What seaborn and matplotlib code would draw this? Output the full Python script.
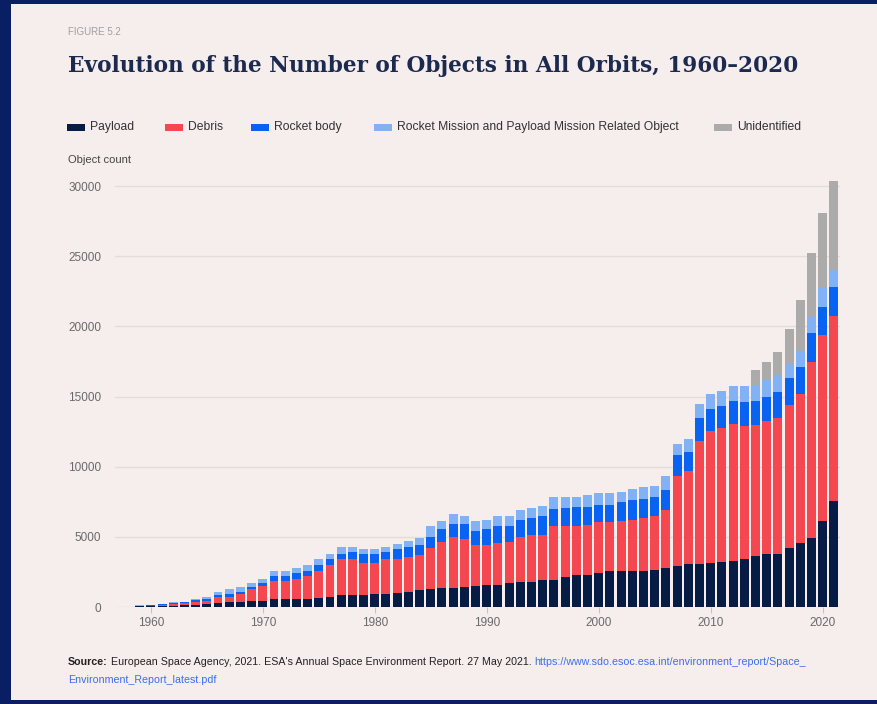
import numpy as np
import pandas as pd
import matplotlib
matplotlib.use("Agg")
import matplotlib.pyplot as plt
from matplotlib.patches import Rectangle
import seaborn as sns

years = list(range(1957, 2022))

payload = [2, 5, 40, 60, 60, 100, 120, 150, 200, 300, 350, 350, 400, 400, 550, 550, 550, 600, 650, 700,
           880, 880, 880, 900, 950, 1000, 1050, 1200, 1250, 1350, 1350, 1400, 1500, 1550, 1600, 1700,
           1750, 1800, 1950, 1950, 2150, 2300, 2300, 2450, 2550, 2550, 2550, 2600, 2650, 2750, 2900,
           3050, 3050, 3150, 3200, 3300, 3450, 3600, 3750, 3800, 4200, 4550, 4950, 6150, 7550]
debris = [0, 0, 20, 30, 100, 120, 170, 230, 250, 400, 350, 580, 860, 1100, 1310, 1310, 1450, 1600,
          1950, 2300, 2520, 2520, 2270, 2250, 2450, 2450, 2500, 2500, 2950, 3250, 3650, 3450, 2900,
          2850, 2950, 2900, 3250, 3350, 3200, 3800, 3600, 3500, 3550, 3600, 3500, 3550, 3650, 3750,
          3800, 4150, 6400, 6650, 8750, 9400, 9550, 9750, 9450, 9400, 9500, 9700, 10200, 10600, 12500,
          13200, 13200]
rocket_body = [1, 5, 30, 40, 30, 80, 50, 120, 150, 180, 230, 170, 170, 200, 340, 340, 400, 400, 400,
               400, 400, 550, 600, 600, 550, 650, 700, 750, 800, 950, 950, 1100, 1050, 1150, 1200,
               1150, 1200, 1200, 1300, 1250, 1300, 1300, 1300, 1250, 1250, 1350, 1400, 1350, 1400,
               1450, 1500, 1350, 1650, 1550, 1600, 1600, 1700, 1650, 1750, 1800, 1950, 1950, 2050,
               2000, 2050]
mission_related = [0, 3, 20, 20, 10, 30, 20, 50, 100, 220, 370, 350, 270, 300, 400, 400, 400, 400,
                   400, 350, 500, 350, 350, 350, 350, 400, 450, 500, 750, 550, 700, 550, 650, 650,
                   700, 700, 700, 700, 750, 850, 800, 750, 850, 850, 800, 750, 800, 850, 800, 950,
                   800, 950, 1000, 1100, 1050, 1100, 1150, 1150, 1150, 1200, 950, 1150, 1200, 1350, 1250]
unidentified = [0] * 57 + [1100, 1300, 1700, 2500, 3650, 4550, 5400, 6300]

series_names = ["Payload", "Debris", "Rocket body",
                "Rocket Mission and Payload Mission Related Object", "Unidentified"]
series_colors = ["#061c44", "#f44750", "#0862f2", "#82b2f6", "#ababab"]
y_ticks = [0, 5000, 10000, 15000, 20000, 25000, 30000]
x_tick_years = [1960, 1970, 1980, 1990, 2000, 2010, 2020]

PANEL = "#f6eded"
W, H = 877, 704

df = pd.DataFrame({"year": [str(y) for y in years], "Payload": payload, "Debris": debris,
                   "Rocket body": rocket_body,
                   "Rocket Mission and Payload Mission Related Object": mission_related,
                   "Unidentified": unidentified})
cum = df[series_names].cumsum(axis=1)

sns.set_theme(style="white")
plt.rcParams["font.family"] = ["Liberation Sans", "DejaVu Sans"]

fig = plt.figure(figsize=(W / 100, H / 100), dpi=100)
fig.patch.set_facecolor("#0a1f63")
fig.patches.append(Rectangle((11 / W, 4 / H), 1 - 11 / W, (700 - 4) / H, transform=fig.transFigure,
                             facecolor=PANEL, edgecolor="none", zorder=-10))

ax = fig.add_axes([115 / W, 97 / H, 725 / W, 426.6 / H])
ax.set_facecolor("none")

for name, color in reversed(list(zip(series_names, series_colors))):
    sns.barplot(x=df["year"], y=cum[name], color=color, saturation=1, width=0.8,
                ax=ax, order=df["year"].tolist(), linewidth=0, zorder=3)

ax.set_xlim(-0.2, 64.55)
ax.set_ylim(0, 30400)
ax.set_yticks(y_ticks)
ax.set_yticklabels([str(v) for v in y_ticks])
ax.set_xticks([years.index(y) for y in x_tick_years])
ax.set_xticklabels([str(y) for y in x_tick_years])
ax.set_xlabel("")
ax.set_ylabel("")
for s in ax.spines.values():
    s.set_visible(False)
ax.grid(axis="y", color="#e3dcdc", linewidth=1.0, zorder=0)
ax.grid(axis="x", visible=False)
ax.set_axisbelow(True)
ax.tick_params(axis="y", length=0, pad=10, labelsize=8.5, labelcolor="#6a6a6a")
ax.tick_params(axis="x", length=4, width=0.8, color="#c8c2c2", pad=3, labelsize=8.5,
               labelcolor="#6a6a6a", bottom=True)

# texts
fig.text(68 / W, 1 - 32 / H, "FIGURE 5.2", fontsize=7, color="#a0a0a0", va="center", ha="left")
fig.text(68 / W, 1 - 66 / H, "Evolution of the Number of Objects in All Orbits, 1960\u20132020",
         fontsize=15.6, fontweight="bold", color="#1b2a4e", va="center", ha="left",
         family=["DejaVu Serif"])

# legend (manual row of swatches + labels)
legend_x = [67, 165, 251, 374, 714]
for lx, name, color in zip(legend_x, series_names, series_colors):
    fig.patches.append(Rectangle((lx / W, 1 - 130.5 / H), 18 / W, 7 / H, transform=fig.transFigure,
                                 facecolor=color, edgecolor="none", zorder=2))
    fig.text((lx + 23) / W, 1 - 127 / H, name, fontsize=8.7, color="#333333",
             va="center", ha="left")

fig.text(68 / W, 1 - 160 / H, "Object count", fontsize=8, color="#444444", va="center", ha="left")

FS = 7.7
t1 = fig.text(68 / W, 1 - 662 / H, "Source:", fontsize=FS, fontweight="bold", color="#222222",
              va="center", ha="left")
t2 = fig.text(0, 0, " European Space Agency, 2021. ESA's Annual Space Environment Report. 27 May 2021. ",
              fontsize=FS, color="#222222", va="center", ha="left")
fig.canvas.draw()
r = fig.canvas.get_renderer()
bb = t1.get_window_extent(r)
t2.set_position((bb.x1 / W, 1 - 662 / H))
bb2 = t2.get_window_extent(r)
fig.text(bb2.x1 / W, 1 - 662 / H, "https://www.sdo.esoc.esa.int/environment_report/Space_",
         fontsize=FS, color="#3a6ff0", va="center", ha="left")
fig.text(68 / W, 1 - 680 / H, "Environment_Report_latest.pdf", fontsize=FS, color="#3a6ff0",
         va="center", ha="left")

fig.savefig("out.png", dpi=100, facecolor=fig.get_facecolor())
